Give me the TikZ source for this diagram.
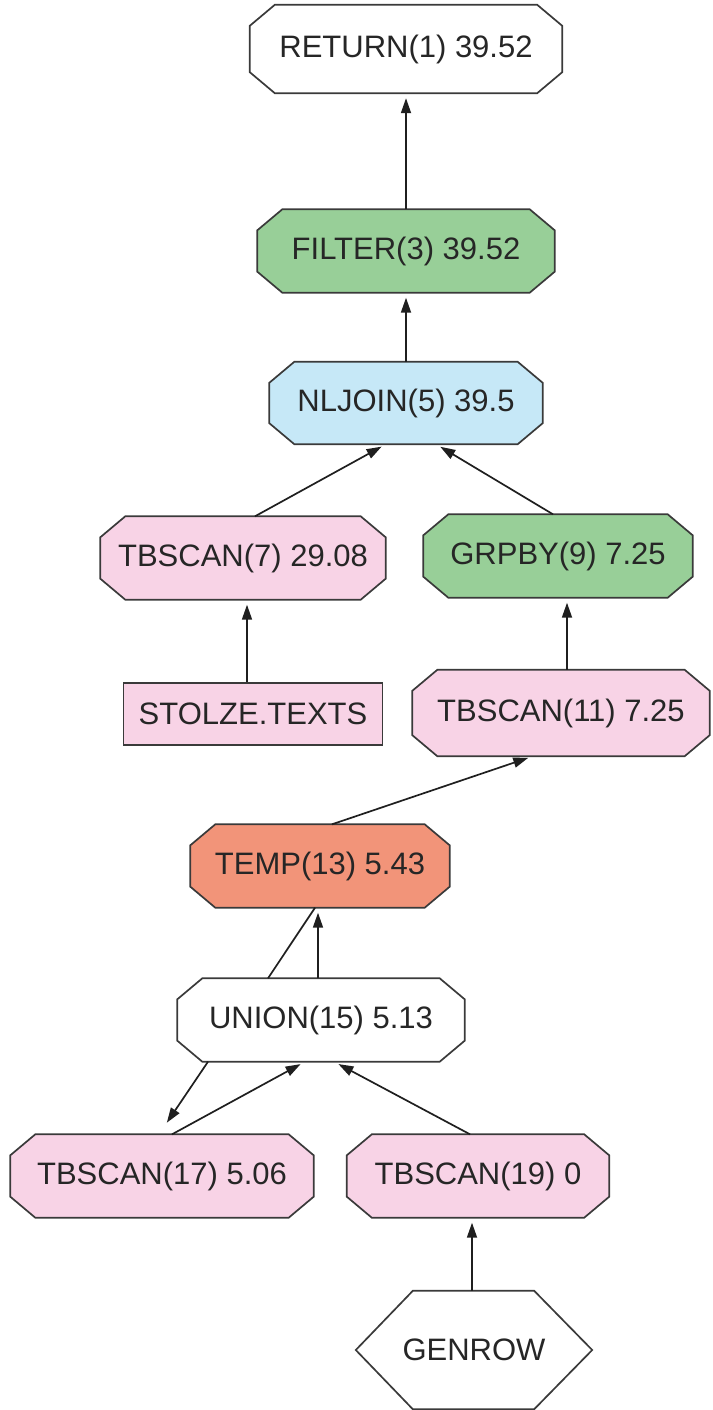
\documentclass[tikz,border=0pt]{standalone}
\usepackage{fontspec}
\setmainfont{Liberation Sans}
\usetikzlibrary{arrows.meta}
\definecolor{opgreen}{HTML}{98CF98}
\definecolor{opblue}{HTML}{C6E8F7}
\definecolor{oppink}{HTML}{F8D3E6}
\definecolor{opsalmon}{HTML}{F29479}
\definecolor{edgegray}{HTML}{3A3A3A}
\pgfdeclarelayer{background}
\pgfsetlayers{background,main}
\tikzset{
  op/.style={rectangle, draw=none, minimum height=83pt, inner sep=0pt,
    font=\fontsize{31}{36}\selectfont, text=black!85},
  octline/.style={draw=edgegray, line width=1.7pt, line join=miter},
  tbl/.style={rectangle, draw=edgegray, line width=1.7pt, fill=oppink,
    minimum height=62pt, inner sep=0pt, font=\fontsize{31}{36}\selectfont, text=black!85},
  conn/.style={draw=black!88, line width=1.7pt, -{Triangle[length=15pt,width=10pt]},
    shorten >=5pt},
  plainconn/.style={draw=black!88, line width=1.7pt}
}
\newcommand\octofill[2]{%
  \begin{pgfonlayer}{background}
  \draw[octline, fill=#2] ([xshift=25pt]#1.north west) -- ([xshift=-25pt]#1.north east)
    -- ([yshift=-21pt]#1.north east) -- ([yshift=21pt]#1.south east)
    -- ([xshift=-25pt]#1.south east) -- ([xshift=25pt]#1.south west)
    -- ([yshift=21pt]#1.south west) -- ([yshift=-21pt]#1.north west) -- cycle;
  \end{pgfonlayer}}
\begin{document}
\begin{tikzpicture}[x=1pt,y=-1pt]
\useasboundingbox (0,0) rectangle (712,1410);
\node[op, minimum width=312pt, minimum height=88pt] (ret) at (406,49) {RETURN(1) 39.52};
\node[op, minimum width=297pt] (fil) at (406,251) {FILTER(3) 39.52};
\node[op, minimum width=273pt, minimum height=82pt] (nlj) at (406,403) {NLJOIN(5) 39.5};
\node[op, minimum width=285pt] (tb7) at (243,558) {TBSCAN(7) 29.08};
\node[op, minimum width=269pt] (grp) at (558,556) {GRPBY(9) 7.25};
\node[tbl, minimum width=259pt] (stz) at (253,714) {STOLZE.TEXTS};
\node[op, minimum width=297pt, minimum height=86pt] (tb11) at (561,713) {TBSCAN(11) 7.25};
\node[op, minimum width=259pt] (tmp) at (320,866) {TEMP(13) 5.43};
\node[op, minimum width=287pt] (uni) at (321,1020) {UNION(15) 5.13};
\node[op, minimum width=303pt] (tb17) at (162,1176) {TBSCAN(17) 5.06};
\node[op, minimum width=262pt] (tb19) at (478,1176) {TBSCAN(19) 0};
\node[op, minimum width=236pt, minimum height=118pt] (gen) at (474,1350) {GENROW};

\octofill{ret}{white}
\octofill{fil}{opgreen}
\octofill{nlj}{opblue}
\octofill{tb7}{oppink}
\octofill{grp}{opgreen}
\octofill{tb11}{oppink}
\octofill{tmp}{opsalmon}
\octofill{uni}{white}
\octofill{tb17}{oppink}
\octofill{tb19}{oppink}
\begin{pgfonlayer}{background}
\draw[octline, fill=white] (gen.west) -- ([xshift=57pt]gen.north west) -- ([xshift=-58pt]gen.north east) -- (gen.east) -- ([xshift=-58pt]gen.south east) -- ([xshift=57pt]gen.south west) -- cycle;
\end{pgfonlayer}

\draw[conn] (fil.north) -- (ret.south);
\draw[conn] (nlj.north) -- (fil.south);
\draw[conn] ([xshift=12pt]tb7.north) -- ([xshift=-20pt]nlj.south);
\draw[conn] ([xshift=-5pt]grp.north) -- ([xshift=30pt]nlj.south);
\draw[conn] ([xshift=-6pt]stz.north) -- ([xshift=4pt]tb7.south);
\draw[conn] ([xshift=6pt]tb11.north) -- ([xshift=9pt]grp.south);
\draw[conn] ([xshift=12pt]tmp.north) -- ([xshift=-28pt]tb11.south);
\draw[conn] ([xshift=-3pt]uni.north) -- ([xshift=-2pt]tmp.south);
\draw[plainconn] ([xshift=-53pt]uni.north) -- ([xshift=-5pt]tmp.south);
\draw[conn, shorten >=14pt] ([xshift=-113pt]uni.south) -- ([xshift=-3pt]tb17.north);
\draw[conn] ([xshift=10pt]tb17.north) -- ([xshift=-16pt]uni.south);
\draw[conn] ([xshift=-8pt]tb19.north) -- ([xshift=13pt]uni.south);
\draw[conn] ([xshift=-2pt]gen.north) -- ([xshift=-6pt]tb19.south);
\end{tikzpicture}
\end{document}
